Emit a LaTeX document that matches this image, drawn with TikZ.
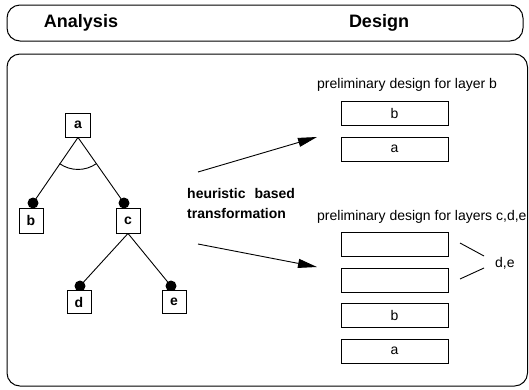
\documentclass[tikz,border=0pt]{standalone}
\usepackage{fontspec}
\setmainfont{Liberation Sans}
\usetikzlibrary{arrows.meta}
\begin{document}
\begin{tikzpicture}[x=1pt,y=-1pt,
  frame/.style={draw, line width=1pt, rounded corners=13pt},
  titletext/.style={font=\fontsize{18}{20}\selectfont\bfseries, inner sep=0pt},
  tnode/.style={draw, fill=white, line width=0.9pt, minimum width=24pt, minimum height=24pt, inner sep=0pt, font=\fontsize{14}{16}\selectfont\bfseries},
  lbox/.style={draw, line width=0.9pt, minimum width=107pt, minimum height=24pt, inner sep=0pt, font=\fontsize{14}{16}\selectfont},
  plain/.style={font=\fontsize{14}{16}\selectfont, inner sep=0pt},
  edge/.style={line width=0.9pt},
  dot/.style={circle, fill=black, minimum size=11pt, inner sep=0pt},
  arr/.style={line width=0.9pt, -{Triangle[length=19pt,width=9pt]}},
]
\useasboundingbox (0,0) rectangle (529,389);
% header
\draw[frame] (7,5) rectangle (523,41);
\node[titletext] (tA) at (81,23) {Analysis};
\node[titletext] (tD) at (379,23) {Design};
% main frame
\draw[frame] (7,54) rectangle (527.5,386);
% tree
\node[tnode, minimum width=25pt] (a) at (78,125) {a};
\node[dot] (db) at (33,203) {};
\node[dot] (dc) at (124,203) {};
\draw[edge] (a.south) -- (db.center);
\draw[edge] (a.south) -- (dc.center);
\draw[edge] ([shift={(125:32)}]a.south) arc[start angle=125, end angle=55, radius=32];
\node[tnode, minimum height=25pt] (b) at (31,220.5) {b};
\node[tnode, minimum height=25pt] (c) at (128,220.5) {c};
\node[dot] (dd) at (80,286) {};
\node[dot] (de) at (171,286) {};
\draw[edge] (c.south) -- (dd.center);
\draw[edge] (c.south) -- (de.center);
\node[tnode, minimum height=23pt] (d) at (79,302) {d};
\node[tnode, minimum height=23pt] (e) at (174,302) {e};
% transformation
\node[font=\fontsize{14}{20}\selectfont\bfseries, align=left, anchor=west, inner sep=0pt] (h) at (187,203) {heuristic\hspace{9pt}based\\transformation};
\coordinate (u1) at (198,172);
\coordinate (u2) at (317,137);
\coordinate (l1) at (198,244);
\coordinate (l2) at (317,267);
\draw[arr] (u1) -- (u2);
\draw[arr] (l1) -- (l2);
% design for layer b
\node[plain, anchor=west] (p1) at (317,85) {preliminary design for layer b};
\node[lbox] (b1) at (394.5,113) {b};
\node[lbox] (a1) at (394.5,149) {a};
% design for layers c,d,e
\node[plain, anchor=west] (p2) at (317,217) {preliminary design for layers c,d,e};
\node[lbox] (x1) at (394.5,244) {};
\node[lbox] (x2) at (394.5,280) {};
\node[lbox] (b2) at (394.5,315.5) {b};
\node[lbox] (a2) at (394.5,351) {a};
\node[plain, anchor=west] (de2) at (495,263) {d,e};
\coordinate (k1) at (460,243);
\coordinate (k2) at (484,256);
\coordinate (k3) at (460,279);
\coordinate (k4) at (484,268);
\draw[edge] (k1) -- (k2);
\draw[edge] (k3) -- (k4);
\end{tikzpicture}
\end{document}
